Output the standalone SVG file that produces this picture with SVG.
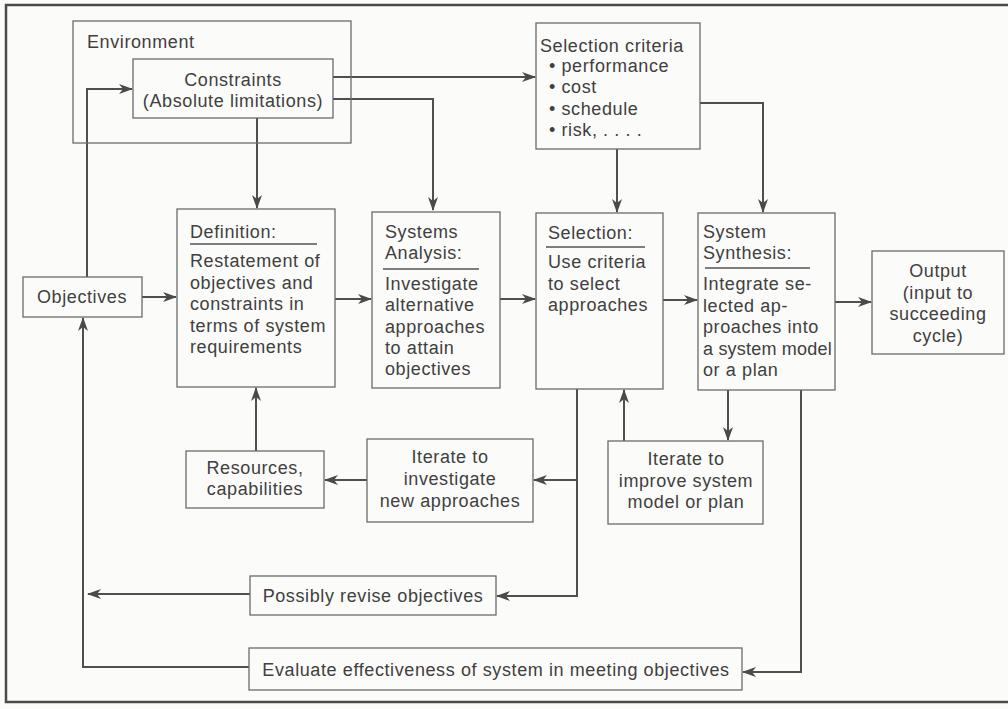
<svg xmlns="http://www.w3.org/2000/svg" width="1008" height="709" viewBox="0 0 1008 709">
<defs>
<marker id="ah" viewBox="0 0 14 10" refX="13" refY="5" markerWidth="14" markerHeight="10" markerUnits="userSpaceOnUse" orient="auto">
<path d="M0,0 L14,5 L0,10 L4,5 z" fill="#4a4a4a"/>
</marker>
<style>
text{font-family:"Liberation Sans",Arial,sans-serif;font-size:18px;fill:#404040;letter-spacing:0.6px}
.c{text-anchor:middle}
.t{letter-spacing:0.2px}
.box{fill:none;stroke:#6a6a6a;stroke-width:1.3}
.ul{stroke:#555;stroke-width:1.3}
.cn{fill:none;stroke:#4f4f4f;stroke-width:2}
.ar{marker-end:url(#ah)}
</style>
</defs>
<rect x="0" y="0" width="1008" height="709" fill="#fbfbf9"/>
<path d="M1010,5 H6 V702 H1010" fill="none" stroke="#4a4a4a" stroke-width="2.5"/>

<g id="connectors">
<path class="cn ar" d="M333,77 H535"/>
<path class="cn ar" d="M333,99 H433 V210"/>
<path class="cn ar" d="M257,118 V208"/>
<path class="cn ar" d="M87,277 V89 H132"/>
<path class="cn ar" d="M617,149 V212"/>
<path class="cn ar" d="M700,103 H763 V212"/>
<path class="cn ar" d="M142,297 H176"/>
<path class="cn ar" d="M335,299 H371"/>
<path class="cn ar" d="M500,299 H535"/>
<path class="cn ar" d="M663,300 H697"/>
<path class="cn ar" d="M835,302 H871"/>
<path class="cn ar" d="M256,451 V388"/>
<path class="cn ar" d="M367,480 H325"/>
<path class="cn" d="M577,389 V597"/>
<path class="cn ar" d="M577,480 H534"/>
<path class="cn ar" d="M577,596 H497"/>
<path class="cn ar" d="M250,594 H88"/>
<path class="cn ar" d="M249,667 H83 V318"/>
<path class="cn ar" d="M624,441 V390"/>
<path class="cn ar" d="M728,390 V440"/>
<path class="cn ar" d="M801,390 V672 H743"/>
</g>

<g id="environment">
<rect class="box" x="73" y="21" width="278" height="122"/>
<text x="87" y="48">Environment</text>
</g>
<g id="constraints">
<rect class="box" x="133" y="59" width="200" height="59" fill="#fbfbf9"/>
<text class="c" x="233" y="86">Constraints</text>
<text class="c" x="233" y="107">(Absolute limitations)</text>
</g>
<g id="selection-criteria">
<rect class="box" x="536" y="23" width="164" height="126"/>
<text x="540" y="52">Selection criteria</text>
<text x="549" y="72">• performance</text>
<text x="549" y="93">• cost</text>
<text x="549" y="115">• schedule</text>
<text x="549" y="136">• risk, . . . .</text>
</g>
<g id="objectives">
<rect class="box" x="23" y="277" width="119" height="40"/>
<text class="c" x="82" y="303">Objectives</text>
</g>
<g id="definition">
<rect class="box" x="177" y="209" width="158" height="178"/>
<text x="190" y="238">Definition:</text>
<line class="ul" x1="190" y1="244" x2="317" y2="244"/>
<text x="190" y="267">Restatement of</text>
<text x="190" y="289">objectives and</text>
<text x="190" y="310">constraints in</text>
<text x="190" y="332">terms of system</text>
<text x="190" y="353">requirements</text>
</g>
<g id="systems-analysis">
<rect class="box" x="372" y="212" width="128" height="176"/>
<text x="385" y="238">Systems</text>
<text x="385" y="259">Analysis:</text>
<line class="ul" x1="383" y1="269" x2="479" y2="269"/>
<text x="385" y="290">Investigate</text>
<text x="385" y="311">alternative</text>
<text x="385" y="333">approaches</text>
<text x="385" y="354">to attain</text>
<text x="385" y="375">objectives</text>
</g>
<g id="selection">
<rect class="box" x="536" y="213" width="127" height="176"/>
<text x="548" y="239">Selection:</text>
<line class="ul" x1="546" y1="247" x2="645" y2="247"/>
<text x="548" y="268">Use criteria</text>
<text x="548" y="290">to select</text>
<text x="548" y="311">approaches</text>
</g>
<g id="system-synthesis">
<rect class="box" x="698" y="213" width="137" height="177"/>
<text x="703" y="238">System</text>
<text x="703" y="259">Synthesis:</text>
<line class="ul" x1="705" y1="268" x2="810" y2="268"/>
<text x="703" y="290">Integrate se-</text>
<text x="703" y="312">lected ap-</text>
<text x="703" y="333">proaches into</text>
<text class="t" x="703" y="355">a system model</text>
<text x="703" y="376">or a plan</text>
</g>
<g id="output">
<rect class="box" x="872" y="251" width="132" height="103"/>
<text class="c" x="938" y="277">Output</text>
<text class="c" x="938" y="299">(input to</text>
<text class="c" x="938" y="320">succeeding</text>
<text class="c" x="938" y="342">cycle)</text>
</g>
<g id="resources">
<rect class="box" x="186" y="451" width="138" height="57"/>
<text class="c" x="255" y="474">Resources,</text>
<text class="c" x="255" y="495">capabilities</text>
</g>
<g id="iterate-investigate">
<rect class="box" x="367" y="439" width="166" height="83"/>
<text class="c" x="450" y="463">Iterate to</text>
<text class="c" x="450" y="485">investigate</text>
<text class="c" x="450" y="507">new approaches</text>
</g>
<g id="iterate-improve">
<rect class="box" x="608" y="441" width="155" height="83"/>
<text class="c" x="686" y="465">Iterate to</text>
<text class="c" x="686" y="487">improve system</text>
<text class="c" x="686" y="508">model or plan</text>
</g>
<g id="possibly-revise">
<rect class="box" x="250" y="576" width="246" height="39"/>
<text class="c" x="373" y="602">Possibly revise objectives</text>
</g>
<g id="evaluate">
<rect class="box" x="249" y="648" width="493" height="42"/>
<text class="c" x="496" y="676">Evaluate effectiveness of system in meeting objectives</text>
</g>
</svg>
